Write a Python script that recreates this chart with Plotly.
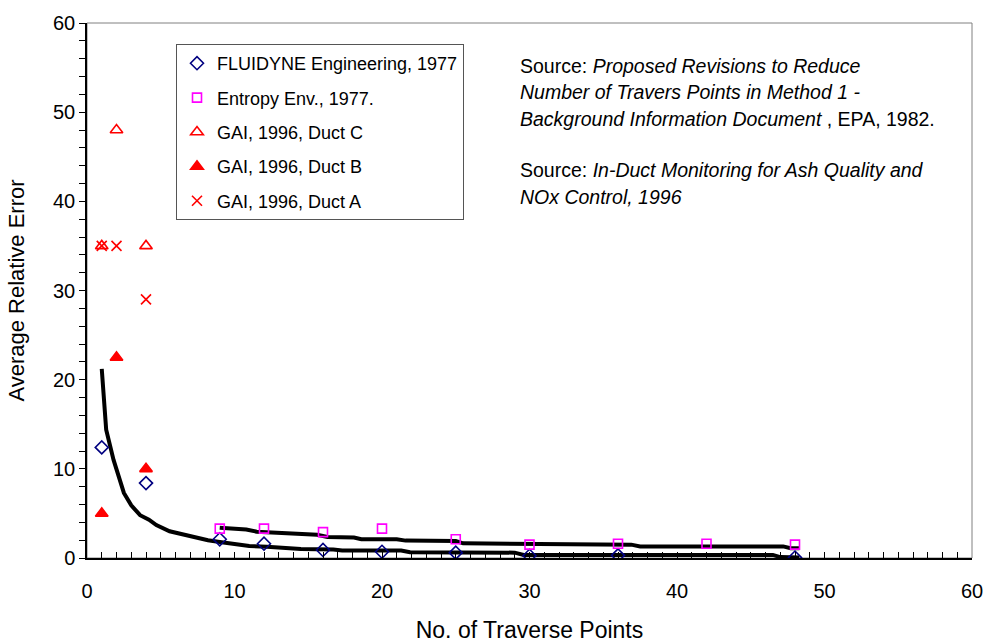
import plotly.graph_objects as go

# Traverse-point studies: average relative error vs. number of traverse points
fluidyne_x = [1, 4, 9, 12, 16, 20, 25, 30, 36, 48]
fluidyne_y = [12.4, 8.4, 2.1, 1.6, 0.9, 0.7, 0.6, 0.25, 0.3, 0.05]

entropy_x = [9, 12, 16, 20, 25, 30, 36, 42, 48]
entropy_y = [3.3, 3.3, 2.9, 3.3, 2.1, 1.5, 1.6, 1.6, 1.5]

gai_c_x = [1, 2, 4]
gai_c_y = [35, 48, 35]

gai_b_x = [1, 2, 4]
gai_b_y = [5, 22.5, 10]

gai_a_x = [1, 2, 4]
gai_a_y = [35, 35, 29]

# Trend curves
lower_x = [1.0, 1.3, 1.8, 2.5, 3.0, 3.6, 4.2, 4.7, 5.6, 6.3, 6.8, 7.7, 8.2, 9.0,
           10.0, 11.0, 12.2, 13.5, 14.5, 16.7, 17.3, 21.3, 21.9, 29.0, 29.6,
           46.5, 47.0, 48.3]
lower_y = [21.2, 14.4, 11.0, 7.3, 5.9, 4.8, 4.3, 3.7, 3.0, 2.7, 2.5, 2.2, 2.0, 1.8,
           1.6, 1.35, 1.25, 1.1, 1.0, 0.95, 0.85, 0.85, 0.65, 0.6, 0.35,
           0.35, 0.1, 0.05]

upper_x = [9.0, 10.8, 11.5, 14.0, 15.6, 16.3, 18.1, 18.6, 21.0, 21.6, 25.0, 25.5,
           30.0, 30.5, 36.9, 37.5, 47.2, 47.7, 48.3]
upper_y = [3.4, 3.2, 2.95, 2.7, 2.6, 2.35, 2.3, 2.1, 2.1, 1.95, 1.9, 1.65,
           1.6, 1.5, 1.5, 1.3, 1.3, 1.1, 1.1]

FONT = "Liberation Sans, Arial, sans-serif"

fig = go.Figure()

fig.add_trace(go.Scatter(x=lower_x, y=lower_y, mode="lines",
                         line=dict(color="black", width=4),
                         showlegend=False, hoverinfo="skip"))
fig.add_trace(go.Scatter(x=upper_x, y=upper_y, mode="lines",
                         line=dict(color="black", width=4),
                         showlegend=False, hoverinfo="skip"))

series = [
    ("FLUIDYNE Engineering, 1977", fluidyne_x, fluidyne_y, "diamond-open", "#000080", 10),
    ("Entropy Env., 1977.", entropy_x, entropy_y, "square-open", "#FF00FF", 9),
    ("GAI, 1996, Duct C", gai_c_x, gai_c_y, "triangle-up-open", "#FF0000", 11),
    ("GAI, 1996, Duct B", gai_b_x, gai_b_y, "triangle-up", "#FF0000", 11),
    ("GAI, 1996, Duct A", gai_a_x, gai_a_y, "x-thin-open", "#FF0000", 10),
]
for i, (name, xs, ys, sym, col, sz) in enumerate(series):
    fig.add_trace(go.Scatter(
        x=xs, y=ys, mode="markers", name=name, legendgroup=f"g{i}",
        marker=dict(symbol=sym, size=sz, color=col,
                    line=dict(color=col, width=1.6)),
    ))

# Source notes, one annotation per line (pixel rows from the top)
notes = [
    (66, "Source: <i>Proposed Revisions to Reduce</i>"),
    (92, "<i>Number of Travers Points in Method 1 -</i>"),
    (119, "<i>Background Information Document</i> , EPA, 1982."),
    (170, "Source: <i>In-Duct Monitoring for Ash Quality and</i>"),
    (197, "<i>NOx Control, 1996</i>"),
]
for ypx, txt in notes:
    fig.add_annotation(xref="paper", yref="paper",
                       x=(518 - 87) / 885, y=(558 - ypx) / 535,
                       xanchor="left", yanchor="middle", showarrow=False,
                       text=txt, font=dict(family=FONT, size=19.5, color="black"))

fig.update_layout(
    width=989, height=643,
    margin=dict(l=87, r=17, t=23, b=85),
    paper_bgcolor="white", plot_bgcolor="white",
    font=dict(family=FONT, size=20, color="black"),
    showlegend=True,
    legend=dict(x=(176 - 87) / 885, y=(558 - 44) / 535, xanchor="left", yanchor="top",
                bgcolor="white", bordercolor="#555555", borderwidth=1,
                font=dict(family=FONT, size=18, color="black"),
                tracegroupgap=8, itemwidth=30, traceorder="grouped"),
    xaxis=dict(range=[0, 60], dtick=10, showgrid=False, zeroline=False,
               automargin=False,
               showline=True, linecolor="black", linewidth=1.5,
               ticks="inside", ticklen=6, tickcolor="black",
               minor=dict(dtick=1, ticks="inside", ticklen=6, tickcolor="black"),
               title=dict(text="No. of Traverse Points", standoff=21,
                          font=dict(family=FONT, size=23)),
               ticklabelstandoff=14),
    yaxis=dict(range=[0, 60], dtick=10, showgrid=False, zeroline=False,
               automargin=False,
               showline=True, linecolor="black", linewidth=1.5,
               ticks="outside", ticklen=6, tickcolor="black",
               minor=dict(dtick=2, ticks="outside", ticklen=6, tickcolor="black"),
               title=dict(text="Average Relative Error", standoff=22,
                          font=dict(family=FONT, size=22))),
    shapes=[dict(type="rect", xref="paper", yref="paper", x0=0, y0=0, x1=1, y1=1,
                 line=dict(color="#808080", width=1), layer="below")],
)

fig.write_html("out.html")
